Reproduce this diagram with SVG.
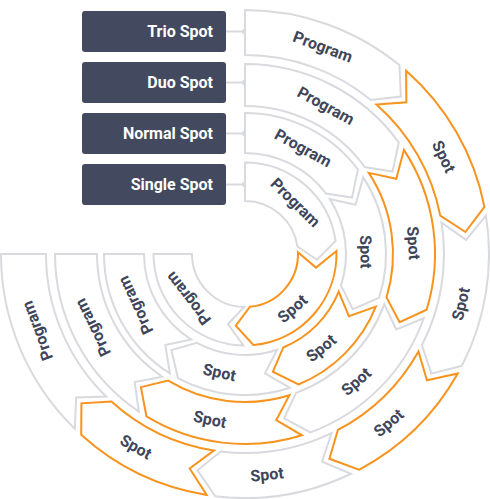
<svg xmlns="http://www.w3.org/2000/svg" width="490" height="499" viewBox="0 0 490 499">
<style>
.g{fill:#fff;stroke:#d9dadf;stroke-width:2;stroke-linejoin:miter}
.o{fill:#fff;stroke:#f7931e;stroke-width:2;stroke-linejoin:miter}
.t{font-family:Roboto,"Liberation Sans",sans-serif;font-weight:700;font-size:16px;fill:#3e4559;text-anchor:middle}
.box{fill:#434a5f}
.bt{font-family:Roboto,"Liberation Sans",sans-serif;font-weight:700;font-size:16px;fill:#fff;text-anchor:end}
.ln{stroke:#d9dadf;stroke-width:2}
.dot{fill:#d9dadf}
</style>
<rect width="490" height="499" fill="#fff"/>
<g id="connectors">
<line class="ln" x1="226" y1="31.5" x2="245" y2="31.5"/><circle class="dot" cx="245" cy="31.5" r="3"/>
<line class="ln" x1="226" y1="82.5" x2="245" y2="82.5"/><circle class="dot" cx="245" cy="82.5" r="3"/>
<line class="ln" x1="226" y1="133.5" x2="245" y2="133.5"/><circle class="dot" cx="245" cy="133.5" r="3"/>
<line class="ln" x1="226" y1="184.5" x2="245" y2="184.5"/><circle class="dot" cx="245" cy="184.5" r="3"/>
</g>
<g id="label-trio"><rect class="box" x="82" y="11" width="144" height="41" rx="3"/><text class="bt" x="213" y="37">Trio Spot</text></g>
<g id="label-duo"><rect class="box" x="82" y="62" width="144" height="41" rx="3"/><text class="bt" x="213" y="88">Duo Spot</text></g>
<g id="label-normal"><rect class="box" x="82" y="113" width="144" height="41" rx="3"/><text class="bt" x="213" y="139">Normal Spot</text></g>
<g id="label-single"><rect class="box" x="82" y="164" width="144" height="41" rx="3"/><text class="bt" x="213" y="190">Single Spot</text></g>

<g id="trio-1"><path class="g" d="M245,10 A244,244 0 0 1 399.45,65.10 L400.81,96.56 L370.96,99.94 A199,199 0 0 0 245,55 Z"/><text class="t" dy="0.35em" transform="translate(322.9,46.7) rotate(20.6)">Program</text></g>
<g id="trio-2"><path class="o" d="M406.14,70.77 A244,244 0 0 1 484.41,206.90 L465.41,232.00 L440.26,215.59 A199,199 0 0 0 376.42,104.56 L406.36,102.26 Z"/><text class="t" dy="0.35em" transform="translate(443.9,156.6) rotate(63.9)">Spot</text></g>
<g id="trio-3"><path class="g" d="M485.95,215.54 A244,244 0 0 1 461.88,365.80 L431.40,373.67 L421.89,345.18 A199,199 0 0 0 441.51,222.63 L466.06,239.94 Z"/><text class="t" dy="0.35em" transform="translate(460.8,303.8) rotate(-77)">Spot</text></g>
<g id="trio-4"><path class="o" d="M457.73,373.52 A244,244 0 0 1 358.91,469.78 L329.41,458.79 L337.90,429.98 A199,199 0 0 0 418.49,351.48 L426.97,380.29 Z"/><text class="t" dy="0.35em" transform="translate(388.6,422.7) rotate(-40.4)">Spot</text></g>
<g id="trio-5"><path class="g" d="M351.08,473.73 A244,244 0 0 1 215.39,496.20 L197.44,470.34 L220.85,451.53 A199,199 0 0 0 331.52,433.21 L321.99,461.69 Z"/><text class="t" dy="0.35em" transform="translate(267,474.4) rotate(-5.7)">Spot</text></g>
<g id="trio-6"><path class="o" d="M206.70,494.98 A244,244 0 0 1 81.19,434.84 L81.43,403.36 L111.40,401.49 A199,199 0 0 0 213.77,450.53 L189.69,468.49 Z"/><text class="t" dy="0.35em" transform="translate(135.9,446.8) rotate(29.5)">Spot</text></g>
<g id="trio-7"><path class="g" d="M74.80,428.84 A244,244 0 0 1 1,254 L46,254 A199,199 0 0 0 106.19,396.59 L76.17,397.39 Z"/><text class="t" dy="0.35em" transform="translate(37.3,330.8) rotate(-110.3)">Program</text></g>

<g id="duo-1"><path class="g" d="M245,64 A190,190 0 0 1 398.79,142.43 L392.55,171.60 L364.80,167.09 A148,148 0 0 0 245,106 Z"/><text class="t" dy="0.35em" transform="translate(325.9,105.6) rotate(28.6)">Program</text></g>
<g id="duo-2"><path class="o" d="M403.91,149.85 A190,190 0 0 1 426.66,309.68 L399.61,322.25 L386.50,297.37 A148,148 0 0 0 368.79,172.87 L396.30,178.70 Z"/><text class="t" dy="0.35em" transform="translate(413.6,243.1) rotate(86.3)">Spot</text></g>
<g id="duo-3"><path class="g" d="M423.81,318.24 A190,190 0 0 1 310.48,432.36 L284.11,418.42 L296.01,392.93 A148,148 0 0 0 384.29,304.04 L396.20,329.52 Z"/><text class="t" dy="0.35em" transform="translate(356.1,381.4) rotate(-41.1)">Spot</text></g>
<g id="duo-4"><path class="o" d="M301.94,435.27 A190,190 0 0 1 146.46,416.45 L140.91,387.14 L168.24,380.54 A148,148 0 0 0 289.36,395.20 L276.26,420.09 Z"/><text class="t" dy="0.35em" transform="translate(209.9,419.3) rotate(12)">Spot</text></g>
<g id="duo-5"><path class="g" d="M138.86,411.59 A190,190 0 0 1 55,254 L97,254 A148,148 0 0 0 162.33,376.76 L134.70,382.05 Z"/><text class="t" dy="0.35em" transform="translate(92.8,327.6) rotate(-115.8)">Program</text></g>

<g id="normal-1"><path class="g" d="M245,113 A141,141 0 0 1 357.92,169.56 L352.05,197.59 L325.89,193.51 A101,101 0 0 0 245,153 Z"/><text class="t" dy="0.35em" transform="translate(303.1,147.9) rotate(28.7)">Program</text></g>
<g id="normal-2"><path class="g" d="M363.24,177.18 A141,141 0 0 1 379.02,297.83 L352.71,309.14 L341.00,285.40 A101,101 0 0 0 329.70,198.98 L355.53,204.77 Z"/><text class="t" dy="0.35em" transform="translate(366,251.9) rotate(89)">Spot</text></g>
<g id="normal-3"><path class="o" d="M375.83,306.57 A141,141 0 0 1 298.48,384.46 L272.82,371.76 L283.31,347.45 A101,101 0 0 0 338.72,291.66 L348.84,316.12 Z"/><text class="t" dy="0.35em" transform="translate(321.1,348) rotate(-39)">Spot</text></g>
<g id="normal-4"><path class="g" d="M289.77,387.71 A141,141 0 0 1 177.91,378.02 L171.49,350.11 L196.95,342.84 A101,101 0 0 0 277.07,349.78 L264.99,373.34 Z"/><text class="t" dy="0.35em" transform="translate(219.4,372.3) rotate(12.2)">Spot</text></g>
<g id="normal-5"><path class="g" d="M169.89,373.33 A141,141 0 0 1 104,254 L144,254 A101,101 0 0 0 191.19,339.48 L165.31,345.06 Z"/><text class="t" dy="0.35em" transform="translate(135.4,305.3) rotate(-115.1)">Program</text></g>

<g id="single-1"><path class="g" d="M245,162.5 A91.5,91.5 0 0 1 335.57,241.00 L317.02,259.71 L297.46,246.47 A53,53 0 0 0 245,201 Z"/><text class="t" dy="0.35em" transform="translate(295.5,202.4) rotate(44.4)">Program</text></g>
<g id="single-2"><path class="o" d="M336.45,251.08 A91.5,91.5 0 0 1 253.56,345.10 L235.78,325.66 L249.96,306.77 A53,53 0 0 0 297.97,252.31 L315.95,267.62 Z"/><text class="t" dy="0.35em" transform="translate(292.4,308.5) rotate(-41)">Spot</text></g>
<g id="single-3"><path class="g" d="M243.45,345.49 A91.5,91.5 0 0 1 153.5,254 L192,254 A53,53 0 0 0 244.10,306.99 L227.93,324.20 Z"/><text class="t" dy="0.35em" transform="translate(188.1,298.5) rotate(-128)">Program</text></g>
</svg>
